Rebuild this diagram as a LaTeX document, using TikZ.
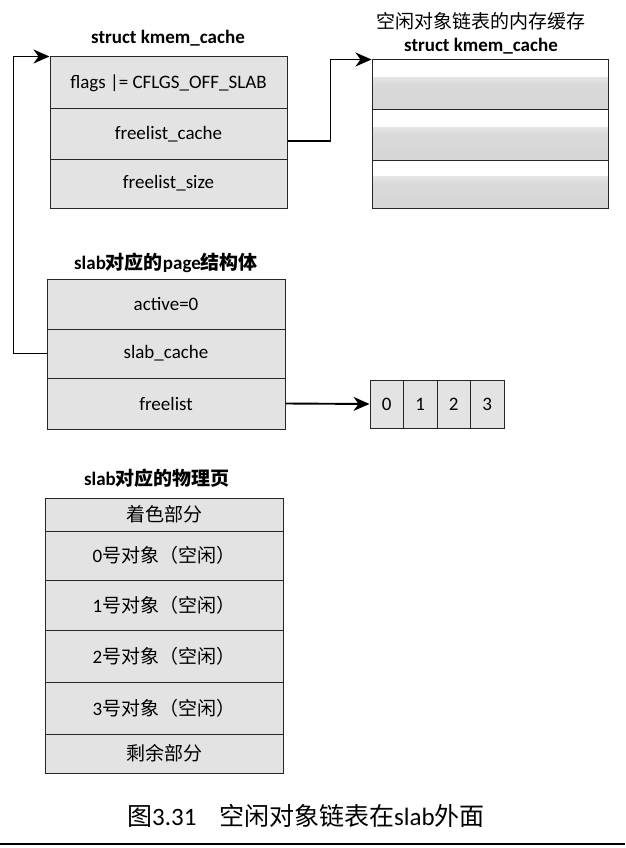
\documentclass[tikz,border=0pt]{standalone}
\usepackage{fontspec}
\setmainfont{Carlito}
\newfontfamily\cjk{Noto Sans CJK SC}
\usetikzlibrary{arrows.meta}
\newcommand{\labfont}{\fontsize{19}{22}\selectfont}
\newcommand{\capfont}{\fontsize{25}{29}\selectfont}
\tikzset{
  cell/.style={draw=black!85, line width=1pt, fill=gray!22, inner sep=0pt, font=\labfont, text=black},
  emptycell/.style={draw=black!85, line width=1pt, inner sep=0pt,
     path picture={\shade[top color=white, bottom color=gray!32, middle color=gray!30]
       ([yshift=-0.35*\pgfkeysvalueof{/pgf/minimum height}]path picture bounding box.north west)
       rectangle (path picture bounding box.south east);}},
  ttl/.style={font=\labfont\bfseries, inner sep=0pt},
  conn/.style={draw=black, line width=1.9pt, -{Stealth[length=16pt,width=14pt,inset=5pt]}},
}
\begin{document}
\begin{tikzpicture}[x=1pt,y=-1pt]
\useasboundingbox (0,0) rectangle (625,848);

% top-left kmem_cache
\node[ttl] (t1) at (168,38) {struct kmem\_cache};
\node[cell, minimum width=237pt, minimum height=52pt] (kc1) at (168.5,83) {flags |= CFLGS\_OFF\_SLAB};
\node[cell, minimum width=237pt, minimum height=50pt] (kc2) at (168.5,134) {freelist\_cache};
\node[cell, minimum width=237pt, minimum height=49pt] (kc3) at (168.5,183.5) {freelist\_size};

% top-right kmem_cache
\node[font=\labfont\cjk, inner sep=0pt] (t2a) at (481,21) {空闲对象链表的内存缓存};
\node[ttl] (t2b) at (481,46) {struct kmem\_cache};
\node[emptycell, minimum width=236pt, minimum height=50pt] (rc1) at (490,85) {};
\node[emptycell, minimum width=236pt, minimum height=50pt] (rc2) at (490,135) {};
\node[emptycell, minimum width=236pt, minimum height=48pt] (rc3) at (490,184) {};

% page struct
\node[ttl] (t3) at (166,263) {slab{\cjk 对应的}page{\cjk 结构体}};
\node[cell, minimum width=238pt, minimum height=50pt] (pg1) at (166,304) {active=0};
\node[cell, minimum width=238pt, minimum height=49pt] (pg2) at (166,353.5) {slab\_cache};
\node[cell, minimum width=238pt, minimum height=51pt] (pg3) at (166,403.5) {freelist};

% freelist array
\node[cell, minimum width=33.5pt, minimum height=48pt] (a0) at (386.75,404) {0};
\node[cell, minimum width=33.5pt, minimum height=48pt] (a1) at (420.25,404) {1};
\node[cell, minimum width=33.5pt, minimum height=48pt] (a2) at (453.75,404) {2};
\node[cell, minimum width=33.5pt, minimum height=48pt] (a3) at (487.25,404) {3};

% physical page
\node[ttl] (t4) at (157,478) {slab{\cjk 对应的物理页}};
\node[cell, minimum width=238pt, minimum height=33pt] (ph0) at (164,514.5) {\cjk 着色部分};
\node[cell, minimum width=238pt, minimum height=49pt] (ph1) at (164,555.5) {0{\cjk 号对象（空闲）}};
\node[cell, minimum width=238pt, minimum height=50pt] (ph2) at (164,605) {1{\cjk 号对象（空闲）}};
\node[cell, minimum width=238pt, minimum height=52pt] (ph3) at (164,656) {2{\cjk 号对象（空闲）}};
\node[cell, minimum width=238pt, minimum height=52pt] (ph4) at (164,708) {3{\cjk 号对象（空闲）}};
\node[cell, minimum width=238pt, minimum height=39pt] (ph5) at (164,753.5) {\cjk 剩余部分};

% connectors
\draw[conn] ([yshift=-7pt]kc2.east) -- ++(43,0) |- (rc1.north west);
\draw[conn] (pg2.west) -- ++(-33,0) |- (kc1.north west);
\draw[conn] (pg3.east) -- (a0.west);

% caption
\node[font=\capfont, inner sep=0pt, anchor=west] (cap) at (127,816) {{\cjk 图}3.31\hspace{0.9em}{\cjk 空闲对象链表在}slab{\cjk 外面}};
\coordinate (rl) at (0,844);
\coordinate (rr) at (625,844);
\draw[line width=1.5pt] (rl) -- (rr);
\end{tikzpicture}
\end{document}
